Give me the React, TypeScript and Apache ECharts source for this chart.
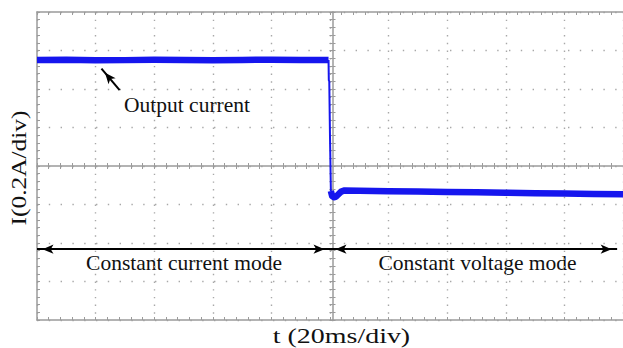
import React, { useEffect, useRef } from 'react';
import * as echarts from 'echarts';

// Time axis (ms) and current axis (A), 20 ms/div and 0.2 A/div
const timeRange = [0, 200];
const timeStep = 20;
const currentRange = [-0.8, 0.8];
const currentStep = 0.2;

// Output current trace, constant-current plateau
const ccTime = [0, 10, 20, 30, 40, 50, 60, 70, 80, 90, 99.5];
const ccCurrent = [0.551, 0.552, 0.549, 0.55, 0.552, 0.551, 0.549, 0.551, 0.552, 0.551, 0.551];

// Mode switch edge
const edgeTime = [99.5, 99.6, 99.75, 100.0, 100.3];
const edgeCurrent = [0.551, 0.445, 0.44, 0.15, -0.13];

// Constant-voltage plateau with the small undershoot after the switch
const cvTime = [100.3, 100.7, 101.3, 102, 102.8, 103.8, 105, 110, 120, 130, 140, 150, 160, 170, 180, 190, 200];
const cvCurrent = [-0.13, -0.155, -0.162, -0.16, -0.148, -0.133, -0.127, -0.128, -0.131, -0.133, -0.135, -0.137, -0.139, -0.141, -0.143, -0.145, -0.147];

// Mode span arrows
const modeBounds = [0, 100, 198];
const modeArrowLevel = -0.432;
const modeNames = ['Constant current mode', 'Constant voltage mode'];

// Pointer to the trace
const pointerTail = [28.2, 0.394];
const pointerTip = [22.0, 0.506];
const traceName = 'Output current';

const xTitle = 't (20ms/div)';
const yTitle = 'I(0.2A/div)';

const zip = (a: number[], b: number[]) => a.map((v, i) => [v, b[i]]);

const axisGray = '#9b9b9b';
const dotGray = '#a8a8a8';
const traceBlue = '#1616ee';
const serif = 'Liberation Serif, Times New Roman, serif';

const tickStyle = { color: axisGray, width: 1 };

function xAxisOf(extra: any) {
  return {
    type: 'value',
    min: timeRange[0],
    max: timeRange[1],
    interval: timeStep,
    axisLabel: { show: false },
    splitLine: { show: false },
    axisLine: { show: true, onZero: false, lineStyle: { color: axisGray, width: 1.5 } },
    axisTick: { show: true, inside: true, length: 3, lineStyle: tickStyle },
    minorTick: { show: true, splitNumber: 5, length: 3, lineStyle: tickStyle },
    ...extra,
  };
}

function yAxisOf(extra: any) {
  return {
    type: 'value',
    min: currentRange[0],
    max: currentRange[1],
    interval: currentStep,
    axisLabel: { show: false },
    splitLine: { show: false },
    axisLine: { show: true, onZero: false, lineStyle: { color: axisGray, width: 1.5 } },
    axisTick: { show: true, inside: true, length: 3, lineStyle: tickStyle },
    minorTick: { show: true, splitNumber: 5, length: 3, lineStyle: tickStyle },
    ...extra,
  };
}

const GRID_W = 591;
const GRID_H = 308;

const textStyle = (text: string, align: string) => ({
  text,
  fontFamily: serif,
  fontSize: 21.5,
  fill: '#111',
  align,
  verticalAlign: 'middle',
  textAlign: align,
  textVerticalAlign: 'middle',
});

const option: any = {
  animation: false,
  backgroundColor: '#ffffff',
  grid: { left: 37, top: 12, width: GRID_W, height: GRID_H, containLabel: false },
  xAxis: [
    xAxisOf({
      position: 'bottom',
      splitLine: { show: true, lineStyle: { color: dotGray, width: 1.4, type: [1.4, 6.3] } },
    }),
    xAxisOf({ position: 'top' }),
    xAxisOf({ position: 'bottom', offset: -GRID_H / 2 }),
    xAxisOf({
      position: 'bottom',
      offset: -GRID_H / 2,
      axisLine: { show: false, onZero: false },
      axisTick: { show: true, inside: false, length: 3, lineStyle: tickStyle },
    }),
  ],
  yAxis: [
    yAxisOf({
      position: 'left',
      splitLine: { show: true, lineStyle: { color: dotGray, width: 1.4, type: [1.4, 10.4] } },
    }),
    yAxisOf({ position: 'left', offset: -GRID_W / 2 }),
    yAxisOf({
      position: 'left',
      offset: -GRID_W / 2,
      axisLine: { show: false, onZero: false },
      axisTick: { show: true, inside: false, length: 3, lineStyle: tickStyle },
    }),
  ],
  series: [
    {
      name: 'cc',
      type: 'line',
      xAxisIndex: 0,
      yAxisIndex: 0,
      showSymbol: false,
      silent: true,
      data: zip(ccTime, ccCurrent),
      lineStyle: { color: traceBlue, width: 6.5, join: 'round' },
      markLine: {
        silent: true,
        animation: false,
        symbol: ['arrow', 'arrow'],
        symbolSize: [7, 11],
        symbolOffset: [[0, 5.5], [0, 5.5]],
        label: { show: false },
        emphasis: { disabled: true },
        lineStyle: { color: '#000', width: 2, type: 'solid' },
        data: [
          [{ coord: [modeBounds[0], modeArrowLevel] }, { coord: [modeBounds[1], modeArrowLevel] }],
          [{ coord: [modeBounds[1], modeArrowLevel] }, { coord: [modeBounds[2], modeArrowLevel] }],
          [{ coord: pointerTail, symbol: 'none' }, { coord: pointerTip, symbol: 'arrow' }],
        ],
      },
    },
    {
      name: 'edge',
      type: 'line',
      showSymbol: false,
      silent: true,
      data: zip(edgeTime, edgeCurrent),
      lineStyle: { color: traceBlue, width: 2 },
    },
    {
      name: 'cv',
      type: 'line',
      showSymbol: false,
      silent: true,
      data: zip(cvTime, cvCurrent),
      lineStyle: { color: traceBlue, width: 6.5, join: 'round' },
    },
  ],
  graphic: [
    { type: 'text', x: 124, y: 104.5, silent: true, style: textStyle(traceName, 'left') },
    { type: 'text', x: 184, y: 263, silent: true, style: textStyle(modeNames[0], 'center') },
    { type: 'text', x: 477.5, y: 263, silent: true, style: textStyle(modeNames[1], 'center') },
    { type: 'text', x: 341.5, y: 336, scaleX: 1.3, silent: true, style: textStyle(xTitle, 'center') },
    {
      type: 'text',
      x: 18.5,
      y: 168,
      rotation: Math.PI / 2,
      scaleX: 1.18,
      silent: true,
      style: textStyle(yTitle, 'center'),
    },
  ],
};

export default function App() {
  const ref = useRef<HTMLDivElement>(null);
  useEffect(() => {
    if (!ref.current) return;
    const chart = echarts.init(ref.current, undefined, { renderer: 'svg' });
    chart.setOption(option);
    return () => chart.dispose();
  }, []);
  return (
    <div
      ref={ref}
      style={{ position: 'fixed', left: 0, top: 0, width: 623, height: 348, background: '#fff' }}
    />
  );
}
